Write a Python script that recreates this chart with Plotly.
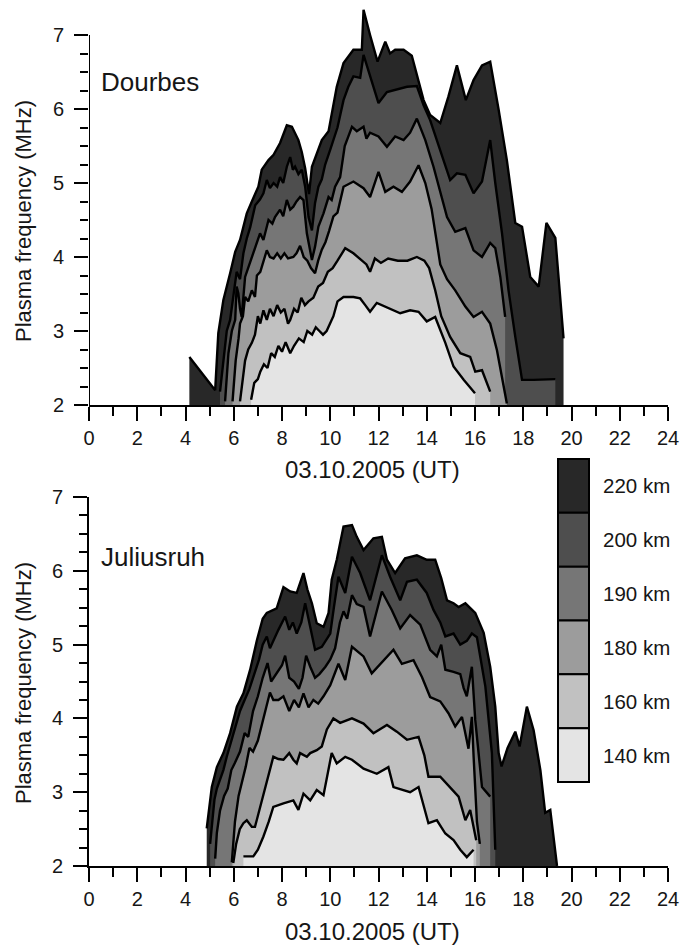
import plotly.graph_objects as go

# ---------------------------------------------------------------------------
# Plasma frequency (MHz) versus time (UT hours) for fixed true heights.
# Each height level is a separate (time, frequency) series.
# ---------------------------------------------------------------------------
LEVELS = ["220 km", "200 km", "190 km", "180 km", "160 km", "140 km"]
FILLS = ["#282828", "#4e4e4e", "#767676", "#9c9c9c", "#c1c1c1", "#e4e4e4"]
BASE = 2.0

# ---- Dourbes ---------------------------------------------------------------
dourbes_220_t = [4.16, 5.23, 5.36, 5.57, 5.85, 6.06, 6.26, 6.54, 6.75, 7.02, 7.16, 7.44, 7.65, 7.92, 8.2,
                 8.41, 8.68, 8.82, 8.96, 9.12, 9.24, 9.44, 9.65, 9.93, 10.13, 10.27, 10.55, 10.96, 11.31, 11.38,
                 11.65, 11.96, 12.28, 12.48, 12.69, 13.04, 13.38, 13.66, 13.87, 14.14, 14.56, 14.9, 15.25, 15.62,
                 15.94, 16.29, 16.63, 16.98, 17.32, 17.67, 17.95, 18.29, 18.64, 18.96, 19.33, 19.67]
dourbes_220_f = [2.65, 2.2, 2.97, 3.42, 3.78, 4.07, 4.23, 4.59, 4.75, 4.95, 5.18, 5.31, 5.38, 5.54, 5.78,
                 5.76, 5.58, 5.42, 5.2, 4.85, 5.22, 5.4, 5.58, 5.7, 6.05, 6.3, 6.62, 6.8, 6.8, 7.34,
                 7.0, 6.64, 6.91, 6.75, 6.8, 6.8, 6.72, 6.39, 6.12, 5.92, 5.81, 6.17, 6.59, 6.12,
                 6.39, 6.59, 6.64, 5.99, 5.31, 4.46, 4.41, 3.73, 3.6, 4.46, 4.26, 2.9]

dourbes_200_t = [5.43, 5.57, 5.71, 5.85, 5.98, 6.12, 6.26, 6.4, 6.54, 6.68, 6.89, 7.09, 7.23, 7.37, 7.5,
                 7.65, 7.8, 7.92, 8.05, 8.2, 8.34, 8.45, 8.54, 8.68, 8.82, 8.96, 9.1, 9.24, 9.37, 9.51,
                 9.65, 9.79, 10.0, 10.13, 10.3, 10.55, 10.75, 10.96, 11.24, 11.38, 11.65, 12.0, 12.35, 12.76,
                 13.18, 13.59, 13.87, 14.14, 14.42, 14.7, 14.97, 15.25, 15.6, 15.94, 16.29, 16.63, 16.84,
                 17.12, 17.39, 17.67, 17.95, 18.43, 19.33]
dourbes_200_f = [2.18, 2.6, 3.0, 3.15, 3.5, 3.8, 3.7, 4.05, 4.25, 4.4, 4.7, 4.78, 4.86, 5.04, 4.93,
                 5.0, 4.95, 5.08, 5.0, 5.22, 5.35, 5.18, 5.22, 5.12, 5.18, 4.95, 4.54, 4.36, 4.73, 4.95,
                 5.05, 5.25, 5.45, 5.58, 5.75, 6.12, 6.3, 6.44, 6.42, 6.73, 6.44, 6.08, 6.23, 6.26,
                 6.3, 6.31, 6.05, 5.85, 5.58, 5.3, 5.04, 5.13, 5.11, 4.86, 5.02, 5.58, 5.0,
                 4.32, 3.55, 2.92, 2.34, 2.34, 2.35]

dourbes_190_t = [5.64, 5.78, 5.92, 6.06, 6.12, 6.19, 6.26, 6.33, 6.47, 6.6, 6.81, 6.95, 7.09, 7.23, 7.44,
                 7.6, 7.71, 7.92, 8.05, 8.2, 8.34, 8.47, 8.6, 8.75, 8.89, 9.03, 9.24, 9.37, 9.51, 9.72,
                 9.93, 10.06, 10.2, 10.41, 10.6, 10.9, 11.1, 11.38, 11.5, 11.65, 12.0, 12.35, 12.69, 13.04,
                 13.31, 13.59, 13.94, 14.28, 14.63, 14.84, 15.18, 15.6, 15.94, 16.29, 16.63, 16.84, 17.05, 17.25]
dourbes_190_f = [2.05, 2.7, 3.0, 3.15, 3.6, 3.51, 3.3, 3.19, 3.73, 3.85, 4.05, 4.2, 4.32, 4.23, 4.5,
                 4.45, 4.54, 4.64, 4.55, 4.77, 4.64, 4.68, 4.75, 4.81, 4.77, 4.32, 3.96, 4.14, 4.41, 4.59,
                 4.81, 4.77, 4.95, 5.08, 5.5, 5.76, 5.7, 5.76, 5.6, 5.68, 5.63, 5.49, 5.63, 5.58,
                 5.68, 5.87, 5.58, 5.22, 4.81, 4.54, 4.34, 4.39, 4.09, 4.0, 4.19, 4.12, 3.73, 3.19]

dourbes_180_t = [5.95, 6.08, 6.2, 6.26, 6.38, 6.47, 6.6, 6.75, 6.88, 6.96, 7.1, 7.23, 7.37, 7.5, 7.65,
                 7.8, 7.95, 8.1, 8.25, 8.47, 8.6, 8.75, 8.9, 9.05, 9.2, 9.37, 9.5, 9.65, 9.8, 9.95,
                 10.13, 10.3, 10.55, 10.96, 11.38, 11.65, 12.0, 12.28, 12.62, 12.97, 13.31, 13.66, 13.94, 14.2,
                 14.42, 14.56, 14.84, 15.18, 15.6, 15.94, 16.29, 16.63, 16.91, 17.12, 17.32]
dourbes_180_f = [2.05, 2.6, 2.9, 3.1, 3.2, 3.46, 3.4, 3.55, 3.46, 3.75, 3.8, 3.95, 4.09, 4.0, 3.98,
                 4.05, 3.98, 4.05, 3.98, 4.0, 4.05, 4.15, 4.0, 3.95, 3.85, 3.78, 3.95, 4.1, 4.2, 4.35,
                 4.55, 4.6, 4.95, 5.02, 4.93, 4.81, 5.15, 4.88, 4.95, 4.88, 5.02, 5.24, 5.0, 4.65,
                 4.2, 3.9, 3.7, 3.55, 3.33, 3.19, 3.26, 3.1, 2.74, 2.38, 2.02]

dourbes_160_t = [6.26, 6.35, 6.47, 6.6, 6.75, 6.88, 7.0, 7.1, 7.23, 7.37, 7.5, 7.65, 7.8, 7.95, 8.1,
                 8.25, 8.34, 8.5, 8.65, 8.8, 8.95, 9.1, 9.3, 9.5, 9.7, 9.9, 10.1, 10.3, 10.62, 10.96,
                 11.3, 11.5, 11.65, 11.85, 12.1, 12.4, 12.8, 13.2, 13.59, 13.9, 14.1, 14.35, 14.6, 14.97,
                 15.39, 15.8, 16.01, 16.29, 16.63]
dourbes_160_f = [2.05, 2.3, 2.6, 2.75, 2.84, 2.95, 3.2, 3.1, 3.28, 3.15, 3.3, 3.2, 3.35, 3.25, 3.3,
                 3.1, 3.15, 3.3, 3.25, 3.45, 3.35, 3.4, 3.45, 3.6, 3.65, 3.8, 3.85, 3.95, 4.12, 4.05,
                 3.95, 3.9, 3.8, 3.98, 3.92, 3.98, 3.95, 3.95, 4.0, 3.95, 3.85, 3.55, 3.2, 2.92,
                 2.7, 2.65, 2.45, 2.47, 2.18]

dourbes_140_t = [6.72, 6.85, 7.0, 7.1, 7.25, 7.4, 7.55, 7.7, 7.85, 8.0, 8.15, 8.34, 8.5, 8.7, 8.9,
                 9.05, 9.25, 9.4, 9.55, 9.7, 9.85, 10.0, 10.13, 10.3, 10.55, 10.96, 11.24, 11.45, 11.65, 11.93,
                 12.28, 12.6, 12.9, 13.31, 13.66, 14.0, 14.35, 14.77, 15.11, 15.53, 16.0]
dourbes_140_f = [2.07, 2.3, 2.35, 2.45, 2.55, 2.5, 2.7, 2.65, 2.8, 2.72, 2.85, 2.7, 2.8, 2.9, 2.85,
                 3.0, 2.95, 3.05, 3.0, 2.95, 3.0, 3.1, 3.2, 3.4, 3.46, 3.46, 3.44, 3.35, 3.26, 3.38,
                 3.33, 3.28, 3.24, 3.28, 3.26, 3.13, 3.19, 2.84, 2.52, 2.34, 2.16]

# ---- Juliusruh -------------------------------------------------------------
juliusruh_220_t = [4.88, 5.0, 5.09, 5.3, 5.57, 5.85, 6.13, 6.4, 6.68, 6.96, 7.2, 7.37, 7.51, 7.78, 8.06,
                   8.34, 8.61, 8.89, 9.05, 9.24, 9.44, 9.72, 9.93, 10.06, 10.27, 10.55, 10.9, 11.1, 11.38, 11.79,
                   12.14, 12.35, 12.69, 13.1, 13.59, 14.0, 14.35, 14.6, 14.84, 15.11, 15.32, 15.6, 16.01, 16.36,
                   16.63, 16.84, 16.98, 17.1, 17.35, 17.67, 17.85, 18.15, 18.43, 18.71, 18.91, 19.12, 19.4]
juliusruh_220_f = [2.51, 2.85, 3.07, 3.34, 3.53, 3.8, 4.16, 4.34, 4.66, 5.06, 5.35, 5.43, 5.45, 5.49, 5.78,
                   5.72, 5.7, 5.97, 5.75, 5.56, 5.29, 5.24, 5.43, 5.88, 6.15, 6.6, 6.62, 6.46, 6.28, 6.44,
                   6.46, 6.15, 5.97, 6.17, 6.21, 6.15, 6.15, 5.9, 5.6, 5.56, 5.51, 5.56, 5.43, 5.16,
                   4.7, 4.16, 3.53, 3.35, 3.6, 3.82, 3.62, 4.16, 3.84, 3.3, 2.72, 2.76, 2.0]

juliusruh_200_t = [5.02, 5.1, 5.2, 5.3, 5.43, 5.57, 5.71, 5.9, 6.05, 6.26, 6.45, 6.65, 6.85, 7.05, 7.2,
                   7.37, 7.5, 7.64, 7.85, 8.13, 8.3, 8.45, 8.61, 8.8, 8.96, 9.17, 9.37, 9.65, 10.0, 10.15,
                   10.34, 10.62, 10.9, 11.24, 11.65, 12.14, 12.48, 12.9, 13.18, 13.59, 14.0, 14.28, 14.56, 14.77,
                   15.11, 15.39, 15.66, 15.87, 16.08, 16.43, 16.7, 16.84]
juliusruh_200_f = [2.3, 2.6, 2.9, 3.05, 3.17, 3.3, 3.48, 3.7, 3.85, 4.1, 4.25, 4.4, 4.6, 4.8, 5.0,
                   5.11, 4.95, 5.06, 5.2, 5.38, 5.2, 5.3, 5.15, 5.3, 5.56, 5.24, 4.93, 4.97, 5.15, 5.5,
                   5.92, 5.7, 6.19, 5.97, 5.6, 6.21, 5.92, 5.6, 5.85, 5.88, 5.7, 5.47, 5.3, 5.11,
                   5.15, 5.0, 5.05, 5.15, 5.1, 4.43, 3.53, 2.22]

juliusruh_190_t = [5.23, 5.3, 5.43, 5.6, 5.75, 5.9, 6.05, 6.26, 6.45, 6.6, 6.8, 7.0, 7.2, 7.4, 7.55,
                   7.8, 8.0, 8.13, 8.3, 8.5, 8.7, 8.85, 9.0, 9.17, 9.37, 9.55, 9.8, 10.0, 10.2, 10.4,
                   10.55, 10.7, 10.9, 11.1, 11.38, 11.65, 12.14, 12.55, 12.9, 13.31, 13.73, 14.14, 14.42, 14.6,
                   14.77, 15.11, 15.39, 15.53, 15.66, 15.87, 16.01, 16.29, 16.63]
juliusruh_190_f = [2.1, 2.45, 2.75, 2.95, 3.05, 3.3, 3.4, 3.55, 3.8, 3.75, 4.1, 4.3, 4.55, 4.75, 4.5,
                   4.62, 4.72, 4.85, 4.55, 4.5, 4.4, 4.55, 4.85, 4.7, 4.55, 4.6, 4.7, 4.8, 4.95, 5.3,
                   5.45, 5.35, 5.67, 5.55, 5.51, 5.11, 5.72, 5.47, 5.22, 5.4, 5.27, 4.93, 4.84, 5.0,
                   4.66, 4.63, 4.6, 4.41, 4.3, 4.7, 3.98, 3.07, 2.94]

juliusruh_180_t = [5.92, 6.05, 6.2, 6.35, 6.5, 6.65, 6.8, 7.0, 7.2, 7.37, 7.5, 7.64, 7.85, 8.06, 8.3,
                   8.5, 8.7, 8.89, 9.1, 9.3, 9.5, 9.72, 10.0, 10.34, 10.62, 10.9, 11.38, 11.72, 12.21, 12.62,
                   12.97, 13.45, 13.8, 14.14, 14.56, 14.9, 15.18, 15.46, 15.73, 15.87, 15.94, 16.08, 16.2]
juliusruh_180_f = [2.05, 2.6, 2.95, 3.15, 3.35, 3.6, 3.55, 3.7, 3.95, 4.2, 4.35, 4.25, 4.25, 4.3, 4.1,
                   4.25, 4.15, 4.34, 4.15, 4.25, 4.2, 4.3, 4.45, 4.74, 4.52, 4.97, 4.84, 4.61, 4.79, 4.93,
                   4.74, 4.79, 4.56, 4.29, 4.23, 4.07, 3.89, 4.02, 3.59, 4.02, 3.5, 2.6, 2.3]

juliusruh_160_t = [5.98, 6.1, 6.25, 6.4, 6.54, 6.75, 6.88, 7.05, 7.23, 7.4, 7.64, 7.85, 8.06, 8.3, 8.47,
                   8.61, 8.75, 9.03, 9.17, 9.44, 9.65, 9.86, 10.13, 10.41, 10.9, 11.38, 11.79, 12.35, 12.76, 13.18,
                   13.66, 13.9, 14.07, 14.56, 14.97, 15.32, 15.6, 15.8, 16.05]
juliusruh_160_f = [2.04, 2.3, 2.5, 2.58, 2.62, 2.53, 2.53, 2.75, 2.98, 3.2, 3.48, 3.45, 3.44, 3.53, 3.44,
                   3.39, 3.53, 3.48, 3.53, 3.57, 3.62, 3.85, 4.0, 3.94, 4.0, 3.93, 3.8, 3.91, 3.82, 3.71,
                   3.75, 3.5, 3.21, 3.21, 3.07, 2.94, 2.62, 2.76, 2.35]

juliusruh_140_t = [6.4, 6.81, 7.0, 7.23, 7.45, 7.64, 8.06, 8.47, 8.68, 8.89, 9.17, 9.44, 9.72, 10.06, 10.27,
                   10.62, 10.9, 11.38, 11.93, 12.41, 12.62, 13.31, 13.66, 14.07, 14.42, 14.77, 15.11, 15.39, 15.66,
                   15.94]
juliusruh_140_f = [2.13, 2.13, 2.22, 2.4, 2.6, 2.8, 2.85, 2.89, 2.76, 2.98, 2.89, 3.03, 2.96, 3.53, 3.39,
                   3.48, 3.44, 3.32, 3.25, 3.34, 3.07, 3.0, 3.07, 2.58, 2.62, 2.44, 2.35, 2.22, 2.12,
                   2.22]

DOURBES = [(dourbes_220_t, dourbes_220_f), (dourbes_200_t, dourbes_200_f), (dourbes_190_t, dourbes_190_f),
           (dourbes_180_t, dourbes_180_f), (dourbes_160_t, dourbes_160_f), (dourbes_140_t, dourbes_140_f)]
JULIUSRUH = [(juliusruh_220_t, juliusruh_220_f), (juliusruh_200_t, juliusruh_200_f),
             (juliusruh_190_t, juliusruh_190_f), (juliusruh_180_t, juliusruh_180_f),
             (juliusruh_160_t, juliusruh_160_f), (juliusruh_140_t, juliusruh_140_f)]

X_TICKS = list(range(0, 25, 2))
Y_TICKS = [2, 3, 4, 5, 6, 7]

# ---------------------------------------------------------------------------
# Page geometry (pixels) and helpers to place decorations in paper units
# ---------------------------------------------------------------------------
W, H = 680, 947
M_L, M_R, M_T, M_B = 89, 12, 5, 81
PLOT_W = W - M_L - M_R
PLOT_H = H - M_T - M_B


def pxx(px):
    return (px - M_L) / PLOT_W


def pxy(py):
    return (H - M_B - py) / PLOT_H


FONT = "Liberation Sans, Arial, Helvetica, sans-serif"
INK = "#161616"
LINE_W = 2.4

fig = go.Figure()


def add_panel(curves, xa, ya):
    # filled bands, outermost level first so inner levels overlay it
    for (t, f), col, name in zip(curves, FILLS, LEVELS):
        fig.add_trace(go.Scatter(
            x=[t[0]] + t + [t[-1]], y=[BASE] + f + [BASE],
            fill="toself", fillcolor=col, mode="none",
            xaxis=xa, yaxis=ya, name=name, showlegend=False, hoverinfo="skip"))
    # isolines on top of the fills
    for (t, f), name in zip(curves, LEVELS):
        fig.add_trace(go.Scatter(
            x=t, y=f, mode="lines", line=dict(color="black", width=LINE_W),
            xaxis=xa, yaxis=ya, name=name, showlegend=False))


add_panel(DOURBES, "x", "y")
add_panel(JULIUSRUH, "x2", "y2")

tickfont = dict(family=FONT, size=20, color=INK)


def x_axis(anchor):
    return dict(domain=[0, 1], range=[0, 24], anchor=anchor, automargin=False,
                tickmode="array", tickvals=X_TICKS, ticks="outside", ticklen=14, tickwidth=2,
                tickcolor="black", showline=True, linewidth=2, linecolor="black",
                showgrid=False, zeroline=False, tickfont=tickfont,
                minor=dict(tickmode="array", tickvals=list(range(1, 24, 2)), ticks="outside",
                           ticklen=9, tickwidth=2, tickcolor="black"))


quarter_ticks = [2 + 0.25 * k for k in range(1, 20) if k % 4]


def y_axis(anchor, domain, top, line):
    return dict(domain=domain, range=[2, top], anchor=anchor, automargin=False,
                tickmode="array", tickvals=Y_TICKS, ticks="outside", ticklen=14, tickwidth=2,
                tickcolor="black", showline=line, linewidth=2, linecolor="black",
                showgrid=False, zeroline=False, tickfont=tickfont, ticklabelstandoff=6,
                minor=dict(tickmode="array", tickvals=quarter_ticks, ticks="outside",
                           ticklen=8, tickwidth=2, tickcolor="black"))


# top panel leaves headroom above 7 MHz so the noon spike is not clipped
TOP_PANEL = [pxy(405), pxy(5)]
BOTTOM_PANEL = [pxy(866), pxy(497)]
top_ceiling = 2 + 5 * (405 - 5) / (405 - 35)

fig.update_layout(
    template="none",
    width=W, height=H,
    margin=dict(l=M_L, r=M_R, t=M_T, b=M_B, autoexpand=False),
    paper_bgcolor="white", plot_bgcolor="rgba(0,0,0,0)",
    xaxis=x_axis("y"), yaxis=y_axis("x", TOP_PANEL, top_ceiling, False),
    xaxis2=x_axis("y2"), yaxis2=y_axis("x2", BOTTOM_PANEL, 7, True),
    font=dict(family=FONT, color=INK),
    showlegend=False,
)

shapes = [dict(type="line", xref="x", yref="y", x0=0, x1=0, y0=2, y1=7,
               line=dict(color="black", width=2), layer="above")]

# legend column of shaded boxes
box_x0, box_x1 = pxx(558), pxx(589)
box_top, box_bottom = 459, 782
step = (box_bottom - box_top) / len(LEVELS)
annotations = []
for i, (name, col) in enumerate(zip(LEVELS, FILLS)):
    y0 = box_top + i * step
    y1 = y0 + step
    shapes.append(dict(type="rect", xref="paper", yref="paper",
                       x0=box_x0, x1=box_x1, y0=pxy(y1), y1=pxy(y0),
                       fillcolor=col, line=dict(color="black", width=2), layer="above"))
    annotations.append(dict(xref="paper", yref="paper", x=pxx(601), y=pxy((y0 + y1) / 2),
                            text=name, showarrow=False, xanchor="left", yanchor="middle",
                            font=dict(family=FONT, size=20.5, color=INK)))

# station names
annotations += [
    dict(xref="paper", yref="paper", x=pxx(99), y=pxy(82), text="Dourbes", showarrow=False,
         xanchor="left", yanchor="middle", font=dict(family=FONT, size=26, color=INK)),
    dict(xref="paper", yref="paper", x=pxx(99), y=pxy(557), text="Juliusruh", showarrow=False,
         xanchor="left", yanchor="middle", font=dict(family=FONT, size=26, color=INK)),
]

# axis titles
for yc in (221, 683):
    annotations.append(dict(xref="paper", yref="paper", x=pxx(23), y=pxy(yc),
                            text="Plasma frequency (MHz)", showarrow=False, textangle=-90,
                            xanchor="center", yanchor="middle",
                            font=dict(family=FONT, size=22, color=INK)))
for yc in (469, 931):
    annotations.append(dict(xref="paper", yref="paper", x=pxx(372), y=pxy(yc),
                            text="03.10.2005 (UT)", showarrow=False,
                            xanchor="center", yanchor="middle",
                            font=dict(family=FONT, size=24, color=INK)))

fig.update_layout(shapes=shapes, annotations=annotations)

fig.write_html("out.html")
